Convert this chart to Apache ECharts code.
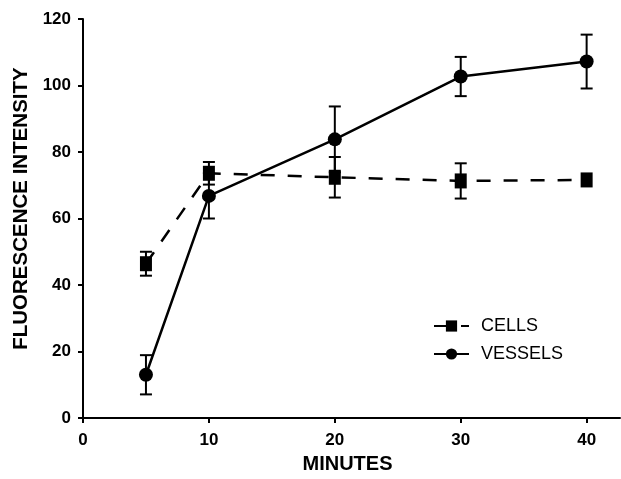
<!DOCTYPE html>
<html>
<head>
<meta charset="utf-8">
<script src="https://cdn.jsdelivr.net/npm/echarts@6/dist/echarts.min.js"></script>
<style>
html, body { margin: 0; padding: 0; background: #fff; }
#chart { width: 621px; height: 479px; }
</style>
</head>
<body>
<div id="chart"></div>
<script>
// values
const minutes = [5, 10, 20, 30, 40]
const cells = [46.4, 73.6, 72.4, 71.3, 71.6]
const cellsErr = [3.6, 3.4, 6.1, 5.3, 0]
const vessels = [13.0, 66.8, 83.8, 102.7, 107.2]
const vesselsErr = [5.9, 6.8, 9.9, 5.9, 8.1]
const xTicks = [0, 10, 20, 30, 40]

const FONT = '"Liberation Sans", Arial, sans-serif'

function pairs(ys) {
  return minutes.map((x, i) => [x, ys[i]])
}
function errData(ys, errs) {
  const out = []
  for (let i = 0; i < minutes.length; i++) {
    if (errs[i] > 0) out.push([minutes[i], ys[i] - errs[i], ys[i] + errs[i]])
  }
  return out
}

function renderErr(params, api) {
  const lo = api.coord([api.value(0), api.value(1)])
  const hi = api.coord([api.value(0), api.value(2)])
  const w = 6
  const st = { stroke: '#000', lineWidth: 2 }
  return {
    type: 'group',
    children: [
      { type: 'line', shape: { x1: lo[0], y1: lo[1], x2: hi[0], y2: hi[1] }, style: st },
      { type: 'line', shape: { x1: lo[0] - w, y1: lo[1], x2: lo[0] + w, y2: lo[1] }, style: st },
      { type: 'line', shape: { x1: hi[0] - w, y1: hi[1], x2: hi[0] + w, y2: hi[1] }, style: st }
    ]
  }
}

const option = {
  animation: false,
  backgroundColor: '#fff',
  grid: { left: 83, right: 1, top: 19, bottom: 58 },
  legend: {
    orient: 'vertical',
    left: 433,
    top: 317,
    padding: 0,
    itemWidth: 35,
    itemHeight: 14,
    itemGap: 10,
    textStyle: { fontFamily: FONT, fontSize: 18, color: '#000', lineHeight: 18, padding: [0, 0, 0, 7] },
    data: ['CELLS', 'VESSELS']
  },
  xAxis: {
    type: 'value',
    min: 0,
    max: 42.65,
    name: 'MINUTES',
    nameLocation: 'middle',
    nameGap: 36,
    nameTextStyle: { fontFamily: FONT, fontSize: 20, fontWeight: 'bold', color: '#000', verticalAlign: 'top', padding: [0, 8, 0, 0] },
    splitLine: { show: false },
    axisLine: { onZero: false, lineStyle: { color: '#000', width: 2 } },
    axisTick: { customValues: xTicks, length: 5, lineStyle: { color: '#000', width: 2 } },
    axisLabel: { customValues: xTicks, margin: 14, fontFamily: FONT, fontSize: 17, fontWeight: 'bold', color: '#000' }
  },
  yAxis: {
    type: 'value',
    min: 0,
    max: 120,
    interval: 20,
    name: 'FLUORESCENCE INTENSITY',
    nameLocation: 'middle',
    nameGap: 49,
    nameTextStyle: { fontFamily: FONT, fontSize: 20.5, fontWeight: 'bold', color: '#000', padding: [0, 0, 0, 20] },
    splitLine: { show: false },
    axisLine: { show: true, lineStyle: { color: '#000', width: 2 } },
    axisTick: { show: true, length: 5, lineStyle: { color: '#000', width: 2 } },
    axisLabel: { margin: 12, fontFamily: FONT, fontSize: 17, fontWeight: 'bold', color: '#000' }
  },
  series: [
    {
      type: 'custom',
      renderItem: renderErr,
      encode: { x: 0, y: [1, 2] },
      data: errData(cells, cellsErr),
      z: 1
    },
    {
      type: 'custom',
      renderItem: renderErr,
      encode: { x: 0, y: [1, 2] },
      data: errData(vessels, vesselsErr),
      z: 1
    },
    {
      name: 'CELLS',
      type: 'line',
      data: pairs(cells),
      symbol: 'rect',
      symbolSize: [12, 15],
      itemStyle: { color: '#000' },
      lineStyle: { color: '#000', width: 2.5, type: [14, 13] },
      z: 3
    },
    {
      name: 'VESSELS',
      type: 'line',
      data: pairs(vessels),
      symbol: 'circle',
      symbolSize: 14,
      itemStyle: { color: '#000' },
      lineStyle: { color: '#000', width: 2.5 },
      z: 4
    }
  ]
}

const myChart = echarts.init(document.getElementById('chart'))
myChart.setOption(option)
</script>
</body>
</html>
